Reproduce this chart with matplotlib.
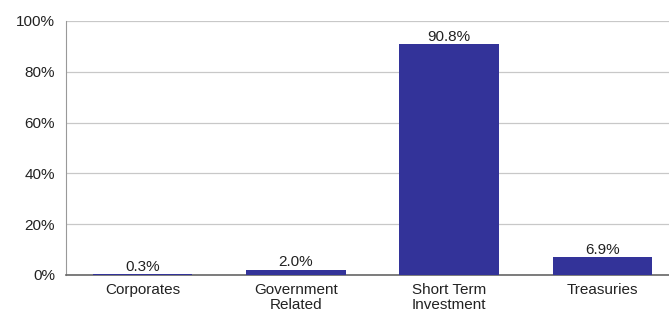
import matplotlib
matplotlib.use("Agg")
import matplotlib.pyplot as plt
from matplotlib.ticker import FuncFormatter

categories = ["Corporates", "Government\nRelated", "Short Term\nInvestment", "Treasuries"]
values = [0.3, 2.0, 90.8, 6.9]
yticks = [0, 20, 40, 60, 80, 100]

plt.rcParams['font.family'] = ['Liberation Sans', 'DejaVu Sans']

fig = plt.figure(figsize=(6.69, 3.12), dpi=100)
ax = fig.add_axes([66/669, 1-275/312, 613/669, (275-21)/312])

x = list(range(len(categories)))
bars = ax.bar(x, values, width=0.65, color="#333399", zorder=3)
for xi, v in zip(x, values):
    ax.text(xi, v + 0.2, f"{v:.1f}%", ha="center", va="bottom", fontsize=11, color="#222222")

ax.set_xlim(-0.5, 3.5)
ax.set_ylim(0, 100)
ax.set_yticks(yticks)
ax.yaxis.set_major_formatter(FuncFormatter(lambda v, p: f"{int(v)}%"))
ax.set_xticks(x)
ax.set_xticklabels(categories, fontsize=11, linespacing=1.05)
ax.tick_params(axis='y', labelsize=11, length=0, pad=8, colors="#222222")
ax.tick_params(axis='x', length=0, pad=6, colors="#222222")
ax.grid(axis='y', color="#c8c8c8", linewidth=0.9, zorder=0)
ax.set_axisbelow(True)
for s in ["top", "right"]:
    ax.spines[s].set_visible(False)
ax.spines["left"].set_color("#999999")
ax.spines["bottom"].set_color("#666666")
ax.spines["bottom"].set_linewidth(1.2)

fig.savefig("out.png", dpi=100)
